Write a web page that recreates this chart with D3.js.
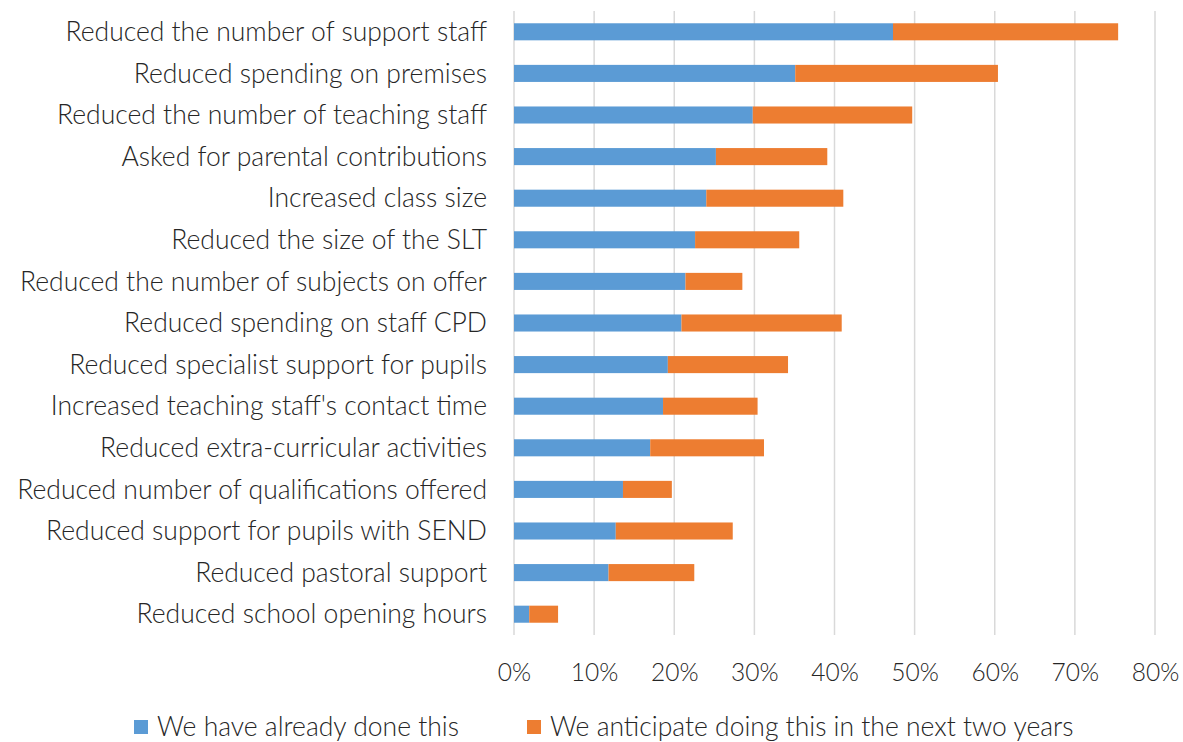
<!DOCTYPE html>
<html><head><meta charset="utf-8">
<script src="https://cdn.jsdelivr.net/npm/d3@7"></script>
<style>
html,body{margin:0;padding:0;background:#fff;}
text{font-family:"Lato","Open Sans",sans-serif;font-weight:300;fill:#262626;}
</style></head>
<body><svg id="c" width="1183" height="742"></svg>
<script>
const categories = [
  "Reduced the number of support staff",
  "Reduced spending on premises",
  "Reduced the number of teaching staff",
  "Asked for parental contributions",
  "Increased class size",
  "Reduced the size of the SLT",
  "Reduced the number of subjects on offer",
  "Reduced spending on staff CPD",
  "Reduced specialist support for pupils",
  "Increased teaching staff's contact time",
  "Reduced extra-curricular activities",
  "Reduced number of qualifications offered",
  "Reduced support for pupils with SEND",
  "Reduced pastoral support",
  "Reduced school opening hours"
];
const alreadyDone = [47.3, 35.1, 29.8, 25.2, 24.0, 22.6, 21.4, 20.9, 19.2, 18.6, 17.0, 13.6, 12.7, 11.8, 1.9];
const anticipate  = [28.1, 25.3, 19.9, 13.9, 17.1, 13.0, 7.1, 20.0, 15.0, 11.8, 14.2, 6.1, 14.6, 10.7, 3.6];
const seriesNames = ["We have already done this", "We anticipate doing this in the next two years"];
const seriesColors = ["#5B9BD5", "#ED7D31"];
const tickValues = [0,10,20,30,40,50,60,70,80];

const svg = d3.select("#c");
const x = d3.scaleLinear().domain([0,80]).range([514,1155]);
const y = d3.scaleBand().domain(categories).range([11,635]).paddingInner(0.59).paddingOuter(0.295);

svg.append("g").selectAll("line").data(tickValues).join("line")
  .attr("x1",d=>x(d)).attr("x2",d=>x(d)).attr("y1",11).attr("y2",635)
  .attr("stroke","#d9d9d9").attr("stroke-width",1.5);

const rows = categories.map((c,i)=>({c, a:alreadyDone[i], b:anticipate[i]}));
const g = svg.append("g");
g.selectAll("rect.a").data(rows).join("rect").attr("class","a")
  .attr("x",x(0)).attr("y",d=>y(d.c)).attr("width",d=>x(d.a)-x(0)).attr("height",y.bandwidth())
  .attr("fill",seriesColors[0]);
g.selectAll("rect.b").data(rows).join("rect").attr("class","b")
  .attr("x",d=>x(d.a)).attr("y",d=>y(d.c)).attr("width",d=>x(d.a+d.b)-x(d.a)).attr("height",y.bandwidth())
  .attr("fill",seriesColors[1]);

const yAxis = d3.axisLeft(y).tickSize(0).tickPadding(0);
const ya = svg.append("g").attr("transform","translate(487,0)").call(yAxis);
ya.select(".domain").remove();
ya.selectAll("text").style("font-size","26.5px").attr("dy","0.35em").attr("fill","#262626")
  .style("font-family","Lato, 'Open Sans', sans-serif").style("font-weight","300");

const xAxis = d3.axisBottom(x).tickValues(tickValues).tickFormat(d=>d+"%").tickSize(0).tickPadding(0);
const xa = svg.append("g").attr("transform","translate(0,672)").call(xAxis);
xa.select(".domain").remove();
xa.selectAll("text").style("font-size","24.5px").attr("dy","0.35em").attr("fill","#262626")
  .style("font-family","Lato, 'Open Sans', sans-serif").style("font-weight","300");

const legX = [134, 527];
const leg = svg.append("g");
seriesNames.forEach((n,i)=>{
  leg.append("rect").attr("x",legX[i]).attr("y",720).attr("width",14).attr("height",14).attr("fill",seriesColors[i]);
  leg.append("text").attr("x",legX[i]+23).attr("y",727).attr("dy","0.35em").style("font-size","26.5px").text(n);
});
</script></body></html>
